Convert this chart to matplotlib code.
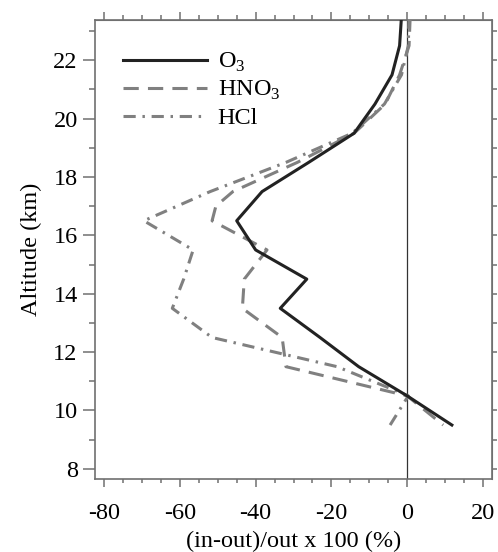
import matplotlib
matplotlib.use('Agg')
import matplotlib.pyplot as plt
from matplotlib.ticker import MultipleLocator

plt.rcParams['font.family'] = ['Liberation Serif', 'DejaVu Serif']
plt.rcParams['axes.unicode_minus'] = False
plt.rcParams['mathtext.fontset'] = 'custom'
plt.rcParams['mathtext.rm'] = 'Liberation Serif'

# altitude profiles of (in-out)/out x 100 (%)
o3Alt = [23.5, 22.5, 21.5, 20.5, 19.5, 18.5, 17.5, 16.5, 15.5, 14.5, 13.5, 12.5, 11.5, 10.5, 9.5]
o3Val = [-1.5, -2, -4, -8.5, -14, -26, -38.3, -45, -40, -26.5, -33.5, -23, -12.8, 0, 11.8]

hno3Alt = [23.5, 22.5, 21.5, 20.5, 19.5, 18.5, 17.5, 17.0, 16.5, 15.5, 14.5, 13.5, 12.5, 11.5, 10.5, 9.5]
hno3Val = [0.8, 0.5, -2, -5.8, -14, -29, -46, -50.5, -51.5, -37, -43, -43.5, -33, -32, 0, 9.5]

hclAlt = [23.5, 22.5, 21.5, 20.5, 19.5, 18.5, 17.5, 16.5, 15.5, 14.5, 13.5, 12.5, 11.5, 10.5, 9.5]
hclVal = [0.5, 0.3, -1.5, -6, -14.5, -32, -52, -69.5, -56.5, -59, -62, -51.5, -18.5, 0.3, -4.5]

labels = ['O$_3$', 'HNO$_3$', 'HCl']
xTicks = [-80, -60, -40, -20, 0, 20]
yTicks = [8, 10, 12, 14, 16, 18, 20, 22]

axCol = '#707070'
fs = 17.5

fig = plt.figure(figsize=(4.98, 5.52), dpi=100)
ax = fig.add_axes([0.1908, 0.1322, 0.7972, 0.8316])

ax.axvline(0, color='#333333', lw=0.9, zorder=1)
ax.plot(o3Val, o3Alt, color='#222222', lw=2.2, label=labels[0], zorder=4)
ax.plot(hno3Val, hno3Alt, color='#808080', lw=2.2, dashes=(5, 3), label=labels[1], zorder=3)
ax.plot(hclVal, hclAlt, color='#808080', lw=2.2, dashes=(4, 2.2, 0.8, 2.2), label=labels[2], zorder=3)

ax.set_xlim(-82.4, 22.4)
ax.set_ylim(7.65, 23.38)
ax.set_xticks(xTicks)
ax.set_yticks(yTicks)
ax.xaxis.set_minor_locator(MultipleLocator(5))
ax.yaxis.set_minor_locator(MultipleLocator(1))

for sp in ax.spines.values():
    sp.set_color(axCol)
    sp.set_linewidth(1.2)

ax.tick_params(axis='x', which='major', direction='out', length=6, width=1.1, color=axCol,
               labelsize=fs, pad=11, top=False)
ax.tick_params(axis='x', which='minor', direction='out', length=3, width=1.1, color=axCol, top=False)
ax.tick_params(axis='y', which='major', direction='out', length=8.5, width=1.1, color=axCol,
               labelsize=fs, pad=4, right=False)
ax.tick_params(axis='y', which='minor', direction='out', length=4.2, width=1.1, color=axCol, right=False)

# top and right ticks, no labels
top = ax.secondary_xaxis('top')
top.set_xticks(xTicks)
top.xaxis.set_minor_locator(MultipleLocator(5))
top.tick_params(which='major', direction='out', length=6, width=1.1, color=axCol, labeltop=False)
top.tick_params(which='minor', direction='out', length=3.5, width=1.1, color=axCol)
top.spines['top'].set_color(axCol)

right = ax.secondary_yaxis('right')
right.set_yticks(list(range(8, 24)))
right.tick_params(which='major', direction='out', length=3.5, width=1.1, color=axCol, labelright=False)
right.spines['right'].set_color(axCol)

ax.set_xlabel('(in-out)/out x 100 (%)', fontsize=fs, labelpad=5)
ax.set_ylabel('Altitude (km)', fontsize=fs, labelpad=8)

ax.legend(loc='upper left', bbox_to_anchor=(0.07, 0.932), frameon=False, fontsize=fs,
          handlelength=3.45, handletextpad=0.45, labelspacing=0.2,
          borderaxespad=0, borderpad=0)

fig.savefig('out.png', dpi=100)
